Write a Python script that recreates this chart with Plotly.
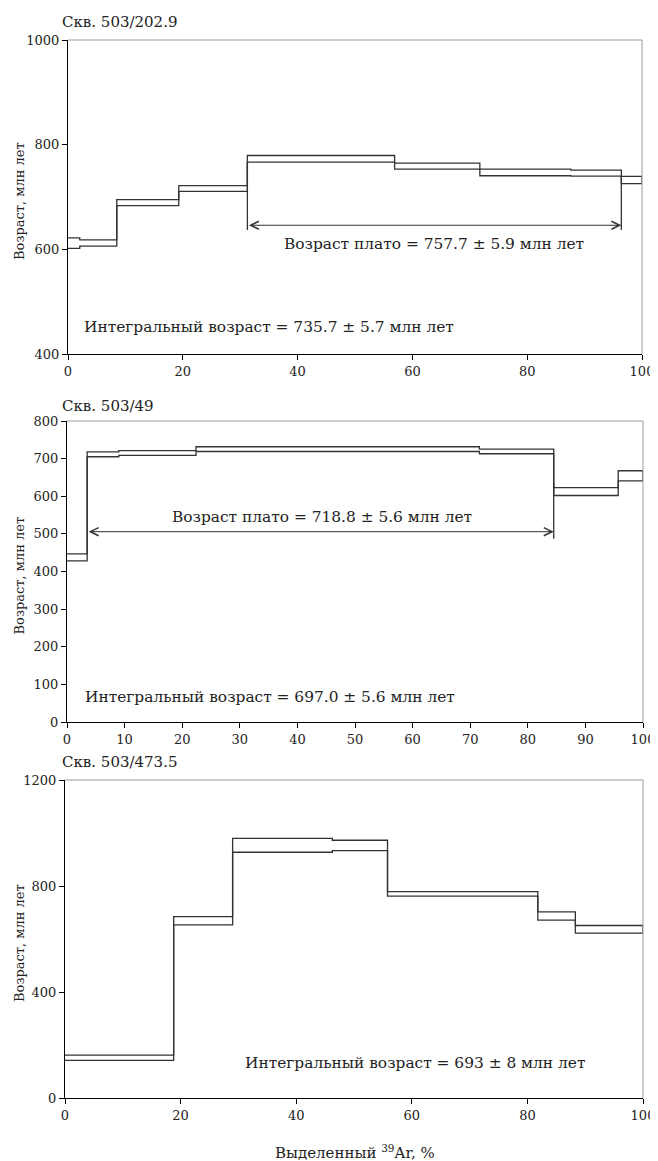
import plotly.graph_objects as go

# ---------------- data ----------------
# Panel 1: Скв. 503/202.9
p1_edges = [0, 2.05, 8.5, 19.3, 31.25, 56.9, 71.75, 87.6, 96.4, 100]
p1_top = [622, 618, 695, 721.6, 779.3, 764.7, 753.3, 751.4, 739.3]
p1_bot = [602, 606, 683.6, 710.8, 766.6, 753.3, 740.6, 740.0, 725.4]
p1_plateau = [31.25, 96.4, 646]
p1_plateau_tick = [637, 637]  # lower end of vertical plateau markers
p1_texts = ["Скв. 503/202.9", "Возраст плато = 757.7 ± 5.9 млн лет",
            "Интегральный возраст = 735.7 ± 5.7 млн лет"]
p1_yticks = [400, 600, 800, 1000]
p1_xticks = [0, 20, 40, 60, 80, 100]

# Panel 2: Скв. 503/49
p2_edges = [0, 3.5, 9.0, 22.4, 50.4, 71.6, 84.5, 95.7, 100]
p2_top = [447, 718, 721, 731.6, 731.6, 725.4, 622.7, 667.8]
p2_bot = [428, 705, 708.6, 719, 719, 713, 602, 641]
p2_plateau = [3.5, 84.5, 505.8]
p2_plateau_tick = [487, 633]
p2_texts = ["Скв. 503/49", "Возраст плато = 718.8 ± 5.6 млн лет",
            "Интегральный возраст = 697.0 ± 5.6 млн лет"]
p2_yticks = [0, 100, 200, 300, 400, 500, 600, 700, 800]
p2_xticks = [0, 10, 20, 30, 40, 50, 60, 70, 80, 90, 100]

# Panel 3: Скв. 503/473.5
p3_edges = [0, 18.8, 29.0, 46.25, 55.8, 81.8, 88.3, 100]
p3_top = [162, 684.8, 980, 972.6, 779, 702.4, 651]
p3_bot = [142, 653.4, 927.4, 933.6, 761.5, 671, 622]
p3_texts = ["Скв. 503/473.5", "Интегральный возраст = 693 ± 8 млн лет"]
p3_yticks = [0, 400, 800, 1200]
p3_xticks = [0, 20, 40, 60, 80, 100]

y_title = "Возраст, млн лет"
x_title = "Выделенный <sup>39</sup>Ar, %"

# ---------------- layout helpers ----------------
OFF = 8                      # page body margin in the browser
W, H = 658 - OFF, 1161 - OFF
FONT = "DejaVu Serif"
LINE = "#333333"
TXTC = "#222222"

fig = go.Figure()


def step_xy(edges, vals):
    xs = list(edges[:-1]) + [edges[-1]]
    ys = list(vals) + [vals[-1]]
    return xs, ys


def px_x(v):
    return (v - OFF) / W


def px_y(v):
    return 1 - (v - OFF) / H


panels = [
    dict(edges=p1_edges, top=p1_top, bot=p1_bot, yr=[400, 1000], yt=p1_yticks, xt=p1_xticks,
         dom_x=[68, 642], dom_y=[40, 354]),
    dict(edges=p2_edges, top=p2_top, bot=p2_bot, yr=[0, 800], yt=p2_yticks, xt=p2_xticks,
         dom_x=[67, 643], dom_y=[421, 722]),
    dict(edges=p3_edges, top=p3_top, bot=p3_bot, yr=[0, 1200], yt=p3_yticks, xt=p3_xticks,
         dom_x=[65, 643], dom_y=[780, 1098]),
]

annotations = []
shapes = []
for i, p in enumerate(panels, start=1):
    xa = "x" if i == 1 else f"x{i}"
    ya = "y" if i == 1 else f"y{i}"
    for vals in (p["top"], p["bot"]):
        xs, ys = step_xy(p["edges"], vals)
        fig.add_trace(go.Scatter(x=xs, y=ys, mode="lines", line=dict(color=LINE, width=1.3, shape="hv"),
                                 xaxis=xa, yaxis=ya, showlegend=False, hoverinfo="skip"))
    # closing right edge of the last step
    fig.add_trace(go.Scatter(x=[p["edges"][-1], p["edges"][-1]], y=[p["bot"][-1], p["top"][-1]],
                             mode="lines", line=dict(color=LINE, width=1.3), xaxis=xa, yaxis=ya,
                             showlegend=False, hoverinfo="skip"))
    axkey_x = "xaxis" if i == 1 else f"xaxis{i}"
    axkey_y = "yaxis" if i == 1 else f"yaxis{i}"
    fig.layout[axkey_x] = dict(
        domain=[px_x(p["dom_x"][0]), px_x(p["dom_x"][1])], range=[0, 100], anchor=ya,
        tickvals=p["xt"], ticks="outside", ticklen=5, tickcolor="black", tickwidth=1,
        showline=True, linecolor="black", linewidth=1.3, showgrid=False, zeroline=False,
        automargin=False, tickfont=dict(family=FONT, size=13, color=TXTC),
    )
    fig.layout[axkey_y] = dict(
        domain=[px_y(p["dom_y"][1]), px_y(p["dom_y"][0])], range=p["yr"], anchor=xa,
        tickvals=p["yt"], ticks="outside", ticklen=5, tickcolor="black", tickwidth=1,
        showline=True, linecolor="black", linewidth=1.3, showgrid=False, zeroline=False,
        automargin=False, tickfont=dict(family=FONT, size=13, color=TXTC),
    )
    # grey top/right frame
    shapes.append(dict(type="line", xref=f"{xa} domain", yref=f"{ya} domain", x0=0, x1=1, y0=1, y1=1,
                       line=dict(color="#9a9a9a", width=1)))
    shapes.append(dict(type="line", xref=f"{xa} domain", yref=f"{ya} domain", x0=1, x1=1, y0=0, y1=1,
                       line=dict(color="#9a9a9a", width=1)))
    # y axis title
    annotations.append(dict(text=y_title, xref="paper", yref="paper",
                            x=px_x(19), y=px_y((p["dom_y"][0] + p["dom_y"][1]) / 2 + 4),
                            xanchor="center", yanchor="middle",
                            textangle=-90, showarrow=False,
                            font=dict(family=FONT, size=13, color=TXTC)))

titles = [p1_texts[0], p2_texts[0], p3_texts[0]]
title_y = [22, 406, 762]
for t, ty in zip(titles, title_y):
    annotations.append(dict(text=t, xref="paper", yref="paper", x=px_x(60), y=px_y(ty),
                            xanchor="left", yanchor="middle", showarrow=False,
                            font=dict(family=FONT, size=15, color=TXTC)))

# plateau arrows
for (pl, xa, ya) in ((p1_plateau, "x", "y"), (p2_plateau, "x2", "y2")):
    annotations.append(dict(x=pl[1], y=pl[2], ax=pl[0], ay=pl[2], xref=xa, yref=ya, axref=xa, ayref=ya,
                            showarrow=True, arrowhead=5, startarrowhead=5, arrowside="end+start",
                            arrowsize=1.6, startarrowsize=1.6, arrowwidth=1, arrowcolor=LINE, text=""))

# plateau vertical markers
fig.add_trace(go.Scatter(x=[p1_plateau[0], p1_plateau[0], None, p1_plateau[1], p1_plateau[1]],
                         y=[p1_plateau_tick[0], p1_bot[4], None, p1_plateau_tick[1], p1_bot[7]],
                         mode="lines", line=dict(color=LINE, width=1.3), xaxis="x", yaxis="y",
                         showlegend=False, hoverinfo="skip"))
fig.add_trace(go.Scatter(x=[p2_plateau[1], p2_plateau[1]], y=p2_plateau_tick,
                         mode="lines", line=dict(color=LINE, width=1.3), xaxis="x2", yaxis="y2",
                         showlegend=False, hoverinfo="skip"))

TXT = dict(family=FONT, size=15.4, color=TXTC)
annotations += [
    dict(text=p1_texts[1], x=63.7, y=611, xref="x", yref="y", showarrow=False, font=TXT),
    dict(text=p1_texts[2], x=2.4, y=452, xref="x", yref="y", showarrow=False, xanchor="left", font=TXT),
    dict(text=p2_texts[1], x=44.2, y=545, xref="x2", yref="y2", showarrow=False, font=TXT),
    dict(text=p2_texts[2], x=2.8, y=66, xref="x2", yref="y2", showarrow=False, xanchor="left", font=TXT),
    dict(text=p3_texts[1], x=30.8, y=132, xref="x3", yref="y3", showarrow=False, xanchor="left", font=TXT),
    dict(text=x_title, xref="paper", yref="paper", x=px_x(355), y=px_y(1152),
         xanchor="center", yanchor="middle", showarrow=False,
         font=dict(family=FONT, size=15, color=TXTC)),
]

fig.update_layout(width=W, height=H, margin=dict(l=0, r=0, t=0, b=0),
                  paper_bgcolor="white", plot_bgcolor="white",
                  font=dict(family=FONT),
                  annotations=annotations, shapes=shapes, showlegend=False)

fig.write_html("out.html")
